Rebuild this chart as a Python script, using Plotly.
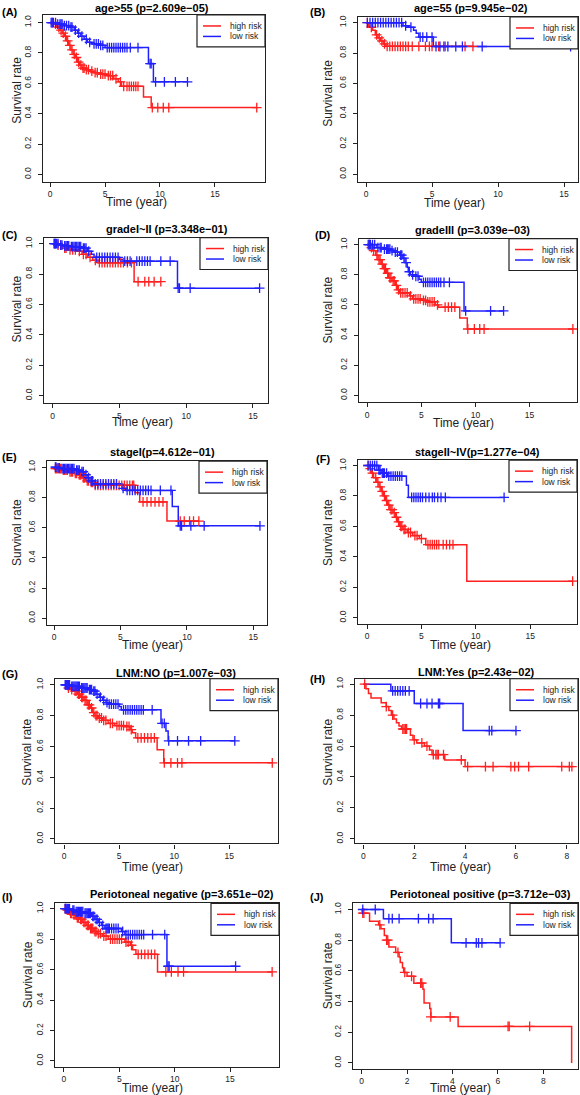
import numpy as np
import plotly.graph_objects as go

W, H = 580, 1095

# ------------------------------------------------------------------ data
titles = ["age>55 (p=2.609e−05)", "age=55 (p=9.945e−02)",
          "gradeI~II (p=3.348e−01)", "gradeIII (p=3.039e−03)",
          "stageI(p=4.612e−01)", "stageII~IV(p=1.277e−04)",
          "LNM:NO (p=1.007e−03)", "LNM:Yes (p=2.43e−02)",
          "Periotoneal negative (p=3.651e−02)", "Periotoneal positive (p=3.712e−03)"]
panel_labels = ["(A)", "(B)", "(C)", "(D)", "(E)", "(F)", "(G)", "(H)", "(I)", "(J)"]
series_names = ["high risk", "low risk"]
x_ticks_long = [0, 5, 10, 15]
x_ticks_short = [0, 2, 4, 6, 8]
y_ticks = [0.0, 0.2, 0.4, 0.6, 0.8, 1.0]
y_tick_labels = ["0.0", "0.2", "0.4", "0.6", "0.8", "1.0"]
x_title = "Time (year)"
y_title = "Survival rate"

# (A) age>55
A_high_t = [0, 0.3, 0.6, 0.9, 1.1, 1.3, 1.5, 1.7, 1.9, 2.1, 2.3, 2.5, 2.7, 2.9, 3.2, 3.6, 4.0, 4.5, 5.2, 5.8, 6.2, 6.5, 8.5, 9.2]
A_high_s = [1, 0.99, 0.97, 0.95, 0.93, 0.91, 0.88, 0.85, 0.82, 0.79, 0.77, 0.74, 0.72, 0.70, 0.69, 0.68, 0.67, 0.66, 0.65, 0.63, 0.61, 0.58, 0.51, 0.44]
A_high_c = [0.2, 0.5, 0.8, 1.0, 1.2, 1.4, 1.6, 1.8, 2.0, 2.2, 2.4, 2.6, 2.8, 3.0, 3.1, 3.3, 3.5, 3.8, 4.1, 4.3, 4.6, 4.8, 5.0, 5.3, 5.5, 5.7, 6.0, 6.4, 6.7, 7.0, 7.2, 7.4, 7.6, 7.8, 8.0, 9.3, 9.8, 10.3, 10.8, 18.8]
A_low_t = [0, 0.6, 1.2, 1.8, 2.2, 2.5, 2.8, 3.1, 3.4, 3.8, 4.5, 5.0, 8.95, 9.4]
A_low_s = [1, 0.99, 0.98, 0.97, 0.95, 0.93, 0.91, 0.89, 0.87, 0.86, 0.85, 0.835, 0.73, 0.61]
A_low_c = [0.1, 0.2, 0.3, 0.5, 0.7, 0.9, 1.0, 1.1, 1.3, 1.5, 1.7, 1.9, 2.0, 2.3, 2.6, 2.9, 3.3, 3.6, 4.0, 4.2, 4.4, 4.6, 4.8, 5.2, 5.4, 5.6, 5.8, 6.0, 6.2, 6.4, 6.6, 6.8, 7.0, 7.3, 8.0, 9.1, 9.2, 9.6, 10.4, 11.4, 12.5]

# (B) age=55
B_high_t = [0, 0.2, 0.5, 0.7, 0.9, 1.1, 1.3, 1.5]
B_high_s = [1, 0.97, 0.95, 0.92, 0.90, 0.88, 0.86, 0.844]
B_high_c = [0.1, 0.4, 0.8, 1.0, 1.2, 1.4, 1.6, 1.8, 2.0, 2.2, 2.4, 2.6, 2.8, 3.0, 3.2, 3.5, 4.0, 4.5, 4.8, 5.0, 5.5, 6.0, 7.5, 8.1]
B_low_t = [0, 2.8, 3.2, 3.6, 3.8, 4.0, 5.1]
B_low_s = [1, 0.98, 0.97, 0.95, 0.93, 0.905, 0.843]
B_low_c = [0.1, 0.3, 0.5, 0.7, 0.9, 1.1, 1.3, 1.5, 1.7, 1.9, 2.1, 2.3, 2.5, 2.7, 3.0, 3.4, 4.1, 4.3, 4.6, 5.0, 5.3, 5.6, 5.9, 6.2, 6.8, 7.3, 8.8, 15.5]

# (C) grade I~II
C_high_t = [0, 0.3, 0.8, 1.2, 1.8, 2.2, 2.6, 3.0, 3.4, 6.1]
C_high_s = [1, 0.99, 0.97, 0.96, 0.95, 0.93, 0.91, 0.89, 0.875, 0.75]
C_high_c = [0.2, 0.4, 0.6, 0.9, 1.0, 1.3, 1.5, 1.7, 2.0, 2.3, 2.5, 2.8, 3.2, 3.5, 3.7, 3.9, 4.1, 4.3, 4.5, 4.7, 4.9, 5.1, 5.3, 5.6, 5.9, 6.4, 6.9, 7.2, 7.6, 8.1]
C_low_t = [0, 0.5, 0.8, 1.3, 2.2, 2.6, 2.9, 3.1, 5.0, 5.3, 9.35]
C_low_s = [1, 0.99, 0.985, 0.98, 0.97, 0.95, 0.93, 0.91, 0.895, 0.885, 0.707]
C_low_c = [0.1, 0.15, 0.2, 0.3, 0.4, 0.6, 0.7, 0.9, 1.0, 1.1, 1.2, 1.4, 1.5, 1.6, 1.7, 1.8, 1.9, 2.0, 2.1, 2.3, 2.4, 2.5, 2.7, 3.3, 3.5, 3.7, 3.9, 4.1, 4.3, 4.5, 4.7, 4.9, 5.4, 5.6, 5.8, 6.3, 6.5, 6.7, 6.9, 7.1, 7.3, 8.1, 8.8, 9.4, 9.5, 10.3, 15.5]

# (D) grade III
D_high_t = [0, 0.3, 0.5, 0.8, 1.0, 1.3, 1.5, 1.8, 2.0, 2.3, 2.6, 2.8, 3.0, 3.9, 4.2, 5.0, 5.5, 6.3, 6.6, 8.55, 9.25]
D_high_s = [1, 0.98, 0.96, 0.93, 0.90, 0.87, 0.84, 0.81, 0.78, 0.76, 0.73, 0.70, 0.68, 0.66, 0.64, 0.63, 0.62, 0.60, 0.585, 0.513, 0.44]
D_high_c = [0.2, 0.4, 0.6, 0.9, 1.1, 1.2, 1.4, 1.6, 1.7, 1.9, 2.1, 2.2, 2.4, 2.5, 2.7, 2.9, 3.1, 3.3, 3.5, 3.7, 4.0, 4.3, 4.5, 4.7, 4.9, 5.2, 5.4, 5.6, 5.8, 6.0, 6.2, 6.5, 7.2, 7.5, 7.8, 8.1, 9.3, 9.9, 10.4, 10.8, 19.0]
D_low_t = [0, 0.9, 1.5, 2.2, 2.5, 3.0, 3.3, 3.5, 3.7, 3.8, 4.0, 4.3, 4.8, 5.0, 8.95]
D_low_s = [1, 0.98, 0.97, 0.96, 0.95, 0.93, 0.91, 0.88, 0.85, 0.82, 0.80, 0.79, 0.77, 0.75, 0.56]
D_low_c = [0.1, 0.2, 0.3, 0.5, 0.7, 1.0, 1.2, 1.3, 1.6, 1.8, 1.9, 2.0, 2.1, 2.3, 2.6, 2.8, 3.1, 3.2, 3.4, 3.6, 3.9, 4.2, 4.5, 4.7, 5.2, 5.4, 5.6, 5.8, 6.0, 6.2, 6.4, 6.6, 6.8, 7.1, 7.6, 9.1, 11.4, 12.6]

# (E) stage I
E_high_t = [0, 0.05, 0.6, 1.1, 1.5, 1.8, 2.1, 2.4, 2.7, 3.0, 6.1, 6.45, 8.5]
E_high_s = [1, 0.99, 0.98, 0.97, 0.96, 0.95, 0.93, 0.91, 0.90, 0.88, 0.83, 0.77, 0.643]
E_high_c = [0.1, 0.2, 0.3, 0.4, 0.5, 0.7, 0.8, 0.9, 1.0, 1.2, 1.3, 1.4, 1.6, 1.7, 1.9, 2.0, 2.2, 2.3, 2.5, 2.6, 2.8, 2.9, 3.1, 3.3, 3.5, 3.7, 3.9, 4.1, 4.3, 4.5, 4.7, 4.9, 5.1, 5.3, 5.5, 5.7, 5.9, 6.0, 6.7, 7.0, 7.3, 7.6, 7.9, 8.2, 9.5, 9.8, 10.2, 10.5, 10.9]
E_low_t = [0, 0.2, 0.5, 1.6, 2.0, 2.3, 2.5, 2.7, 3.0, 5.1, 5.4, 8.9, 9.35]
E_low_s = [1, 0.995, 0.99, 0.98, 0.97, 0.95, 0.93, 0.91, 0.89, 0.86, 0.846, 0.74, 0.612]
E_low_c = [0.1, 0.15, 0.3, 0.4, 0.6, 0.7, 0.8, 0.9, 1.0, 1.1, 1.2, 1.3, 1.4, 1.5, 1.7, 1.8, 1.9, 2.1, 2.2, 2.4, 2.6, 2.8, 2.9, 3.1, 3.3, 3.5, 3.7, 3.9, 4.1, 4.3, 4.5, 4.7, 5.2, 5.5, 5.7, 5.9, 6.1, 6.3, 6.5, 6.7, 6.9, 7.1, 7.3, 8.0, 8.8, 9.5, 9.6, 10.3, 11.3, 15.5]

# (F) stage II~IV
F_high_t = [0, 0.2, 0.4, 0.6, 0.9, 1.1, 1.3, 1.5, 1.7, 1.9, 2.1, 2.4, 2.6, 2.8, 3.0, 3.3, 3.7, 4.2, 4.8, 5.4, 9.17]
F_high_s = [1, 0.98, 0.95, 0.92, 0.89, 0.86, 0.83, 0.80, 0.77, 0.74, 0.71, 0.69, 0.66, 0.63, 0.60, 0.58, 0.56, 0.54, 0.52, 0.48, 0.24]
F_high_c = [0.1, 0.3, 0.5, 0.8, 1.0, 1.2, 1.4, 1.6, 1.8, 2.0, 2.2, 2.3, 2.5, 2.7, 2.9, 3.1, 3.2, 3.4, 3.5, 3.8, 4.0, 4.4, 4.6, 5.0, 5.6, 5.8, 6.0, 6.2, 6.4, 6.6, 7.0, 7.3, 7.6, 7.9, 18.9]
F_low_t = [0, 1.05, 1.3, 1.9, 3.62, 3.8]
F_low_s = [1, 0.97, 0.95, 0.93, 0.87, 0.79]
F_low_c = [0.1, 0.3, 0.5, 0.7, 0.9, 1.1, 1.2, 1.4, 1.5, 1.6, 1.8, 2.0, 2.2, 2.4, 2.6, 2.8, 3.0, 3.2, 4.1, 4.3, 4.5, 4.7, 4.9, 5.1, 5.4, 5.7, 6.0, 6.2, 6.5, 6.8, 7.2, 12.6]

# (G) LNM: NO
G_high_t = [0, 0.3, 0.6, 0.9, 1.2, 1.5, 1.8, 2.1, 2.4, 2.6, 2.8, 3.1, 3.5, 4.0, 4.6, 5.5, 6.0, 6.2, 6.5, 8.45, 9.05]
G_high_s = [1, 0.98, 0.97, 0.96, 0.94, 0.92, 0.90, 0.87, 0.85, 0.82, 0.80, 0.785, 0.77, 0.75, 0.736, 0.73, 0.71, 0.69, 0.656, 0.578, 0.494]
G_high_c = [0.2, 0.4, 0.7, 1.0, 1.1, 1.3, 1.4, 1.6, 1.7, 1.9, 2.0, 2.2, 2.3, 2.5, 2.7, 2.9, 3.0, 3.2, 3.4, 3.6, 3.8, 4.2, 4.4, 4.8, 5.0, 5.2, 5.4, 5.7, 5.9, 6.1, 6.7, 7.0, 7.3, 7.6, 7.9, 8.2, 9.1, 9.7, 10.3, 10.7, 18.9]
G_low_t = [0, 0.6, 1.5, 2.2, 2.6, 2.9, 3.2, 3.5, 3.8, 4.0, 5.0, 5.2, 8.8, 9.25, 9.45]
G_low_s = [1, 0.99, 0.98, 0.97, 0.96, 0.94, 0.92, 0.90, 0.885, 0.875, 0.86, 0.838, 0.75, 0.70, 0.637]
G_low_c = [0.1, 0.15, 0.2, 0.3, 0.4, 0.5, 0.7, 0.8, 0.9, 1.0, 1.1, 1.2, 1.3, 1.4, 1.6, 1.7, 1.8, 1.9, 2.0, 2.1, 2.3, 2.4, 2.5, 2.7, 2.8, 3.0, 3.3, 3.6, 3.9, 4.1, 4.3, 4.5, 4.7, 4.9, 5.4, 5.6, 5.8, 6.0, 6.2, 6.4, 6.6, 6.8, 7.0, 7.2, 8.0, 8.9, 9.1, 9.5, 10.3, 11.3, 12.4, 15.5]

# (H) LNM: Yes
H_high_t = [0, 0.1, 0.2, 0.3, 0.7, 0.9, 1.0, 1.1, 1.2, 1.3, 1.4, 1.5, 1.85, 1.95, 2.1, 2.4, 2.6, 2.7, 3.2, 4.0]
H_high_s = [1, 0.97, 0.94, 0.91, 0.88, 0.855, 0.83, 0.80, 0.775, 0.75, 0.73, 0.71, 0.67, 0.64, 0.62, 0.60, 0.575, 0.545, 0.51, 0.467]
H_high_c = [0.05, 0.9, 1.15, 1.55, 1.6, 1.65, 1.7, 2.0, 2.3, 2.5, 2.75, 2.85, 2.9, 2.95, 3.15, 3.85, 4.1, 4.8, 5.1, 5.8, 5.95, 6.1, 6.5, 7.8, 8.1, 8.2]
H_low_t = [0, 1.08, 2.0, 3.92]
H_low_s = [1, 0.957, 0.875, 0.70]
H_low_c = [1.15, 1.25, 1.35, 1.45, 1.55, 1.65, 1.8, 2.25, 2.5, 2.7, 2.95, 3.0, 4.95, 5.05, 6.0]

# (I) peritoneal negative
I_high_t = [0, 0.2, 0.5, 0.8, 1.1, 1.4, 1.7, 2.0, 2.3, 2.7, 3.0, 3.5, 4.0, 5.5, 6.0, 6.2, 6.5, 8.45]
I_high_s = [1, 0.99, 0.97, 0.96, 0.94, 0.93, 0.91, 0.89, 0.87, 0.85, 0.836, 0.82, 0.80, 0.78, 0.76, 0.73, 0.70, 0.585]
I_high_c = [0.1, 0.3, 0.4, 0.6, 0.7, 0.9, 1.0, 1.2, 1.3, 1.5, 1.6, 1.8, 1.9, 2.1, 2.2, 2.4, 2.5, 2.6, 2.8, 2.9, 3.1, 3.3, 3.6, 3.8, 4.2, 4.4, 4.6, 4.8, 5.0, 5.2, 5.6, 5.8, 6.1, 6.7, 7.0, 7.3, 7.6, 7.9, 8.2, 9.2, 9.7, 10.3, 10.8, 18.8]
I_low_t = [0, 0.7, 1.0, 1.8, 2.5, 2.8, 3.1, 3.4, 3.7, 5.2, 5.5, 9.3]
I_low_s = [1, 0.99, 0.98, 0.97, 0.95, 0.93, 0.91, 0.89, 0.87, 0.85, 0.83, 0.622]
I_low_c = [0.1, 0.15, 0.2, 0.3, 0.4, 0.5, 0.8, 0.9, 1.1, 1.2, 1.3, 1.4, 1.5, 1.6, 1.7, 1.9, 2.0, 2.1, 2.2, 2.3, 2.4, 2.6, 2.7, 2.9, 3.0, 3.2, 3.5, 3.8, 3.9, 4.0, 4.1, 4.3, 4.5, 4.7, 4.9, 5.3, 5.6, 5.8, 6.0, 6.2, 6.4, 6.6, 6.8, 7.0, 7.2, 8.0, 9.1, 9.4, 9.5, 15.5]

# (J) peritoneal positive
J_high_t = [0, 0.02, 0.35, 0.75, 0.85, 1.0, 1.1, 1.2, 1.5, 1.65, 1.7, 1.8, 1.85, 2.0, 2.3, 2.7, 2.75, 3.0, 3.05, 4.25, 9.25]
J_high_s = [1, 0.976, 0.924, 0.90, 0.875, 0.83, 0.80, 0.755, 0.72, 0.69, 0.655, 0.62, 0.59, 0.565, 0.52, 0.48, 0.39, 0.354, 0.30, 0.238, 0.0]
J_high_c = [0.05, 0.1, 0.8, 1.1, 1.15, 1.6, 1.9, 2.2, 2.6, 2.65, 3.05, 3.9, 6.45, 6.5, 7.4]
J_low_t = [0, 0.96, 3.95]
J_low_s = [1, 0.94, 0.783]
J_low_c = [0.05, 0.6, 1.2, 1.35, 1.65, 2.5, 2.95, 3.15, 4.6, 5.05, 5.15, 5.3, 6.1]

curves = [
    ((A_high_t, A_high_s, A_high_c), (A_low_t, A_low_s, A_low_c)),
    ((B_high_t, B_high_s, B_high_c), (B_low_t, B_low_s, B_low_c)),
    ((C_high_t, C_high_s, C_high_c), (C_low_t, C_low_s, C_low_c)),
    ((D_high_t, D_high_s, D_high_c), (D_low_t, D_low_s, D_low_c)),
    ((E_high_t, E_high_s, E_high_c), (E_low_t, E_low_s, E_low_c)),
    ((F_high_t, F_high_s, F_high_c), (F_low_t, F_low_s, F_low_c)),
    ((G_high_t, G_high_s, G_high_c), (G_low_t, G_low_s, G_low_c)),
    ((H_high_t, H_high_s, H_high_c), (H_low_t, H_low_s, H_low_c)),
    ((I_high_t, I_high_s, I_high_c), (I_low_t, I_low_s, I_low_c)),
    ((J_high_t, J_high_s, J_high_c), (J_low_t, J_low_s, J_low_c)),
]

# ------------------------------------------------------------------ layout (pixels)
# plot box: left, right, top, bottom
boxes = [(43, 265, 13, 180), (358, 578, 15, 180),
         (44, 268, 236, 402), (359, 577, 237, 401),
         (47, 267, 460, 624), (358, 577, 459, 623),
         (55, 278, 678, 843), (355, 578, 678, 843),
         (55, 279, 903, 1067), (353, 578, 903, 1069)]
x_ranges = [(-0.64, 19.55), (-0.61, 16.06), (-0.65, 16.13), (-0.75, 19.38), (-0.53, 16.03),
            (-0.83, 19.3), (-0.82, 19.42), (-0.33, 8.44), (-0.81, 19.42), (-0.38, 9.53)]
y_ranges = [(-0.048, 1.05), (-0.05, 1.038), (-0.05, 1.04), (-0.046, 1.04), (-0.044, 1.04),
            (-0.04, 1.035), (-0.03, 1.04), (-0.03, 1.035), (-0.04, 1.035), (-0.04, 1.04)]
short_axis = [False, False, False, False, False, False, False, True, False, True]
title_pos = [(152, 6), (471, 6), (167, 227), (472, 228), (162, 451),
             (477, 451), (176, 672), (476, 671), (182, 894), (480, 894)]
label_pos = [(0, 10), (308, 10), (0, 233), (313, 233), (0, 456),
             (314, 458), (0, 673), (308, 678), (0, 897), (308, 897)]
ylab_pos = [(17, 89), (328, 92), (17, 308), (328, 309), (17, 532),
            (328, 532), (27, 752), (328, 752), (28, 975), (328, 976)]
xlab_pos = [(136, 200), (454, 201), (142, 421), (463, 422), (152, 644),
            (460, 644), (152, 867), (460, 867), (152, 1088), (460, 1088)]
LEG_W, LEG_H = 68, 32

RED = "#FF2020"
BLUE = "#2020FF"
INK = "#222222"
FONT = "Liberation Sans, Arial, sans-serif"


def surv_at(t, s, times):
    t = np.asarray(t, float)
    s = np.asarray(s, float)
    idx = np.searchsorted(t, np.asarray(times, float), side="right") - 1
    return s[np.clip(idx, 0, len(s) - 1)]


def px(x):
    return x / W


def py(y):
    return 1 - y / H


fig = go.Figure()
annotations = []
shapes = []
layout_axes = {}

for k in range(10):
    n = "" if k == 0 else str(k + 1)
    xa, ya = "x" + n, "y" + n
    L, R, T, B = boxes[k]
    for (t, s, c), name, col in zip(curves[k], series_names, [RED, BLUE]):
        end = max(max(c), t[-1])
        xs = list(t) + ([end] if end > t[-1] else [])
        ys = list(s) + ([s[-1]] if end > t[-1] else [])
        fig.add_trace(go.Scatter(x=xs, y=ys, mode="lines", line=dict(color=col, width=1.5, shape="hv"),
                                 name=name, xaxis=xa, yaxis=ya, showlegend=False, hoverinfo="skip"))
    for (t, s, c), name, col in zip(curves[k], series_names, [RED, BLUE]):
        fig.add_trace(go.Scatter(x=c, y=surv_at(t, s, c), mode="markers",
                                 marker=dict(symbol="cross-thin", size=7, line=dict(color=col, width=1.3)),
                                 name=name + " censored", xaxis=xa, yaxis=ya, showlegend=False,
                                 hoverinfo="skip"))
    ticks = x_ticks_short if short_axis[k] else x_ticks_long
    common = dict(showline=True, mirror=True, linecolor=INK, linewidth=1.2, ticks="outside",
                  ticklen=4, tickcolor=INK, tickwidth=1, showgrid=False, zeroline=False,
                  tickfont=dict(family=FONT, size=8.5, color=INK))
    layout_axes["xaxis" + n] = dict(domain=[px(L), px(R)], range=list(x_ranges[k]), anchor=ya,
                                    tickvals=ticks, ticktext=[str(v) for v in ticks],
                                    ticklabelstandoff=0, **common)
    layout_axes["yaxis" + n] = dict(domain=[py(B), py(T)], range=list(y_ranges[k]), anchor=xa,
                                    tickvals=y_ticks, ticktext=y_tick_labels, tickangle=-90,
                                    ticklabelstandoff=4, **common)

    # legend box (top-right corner of the panel)
    lx0, lx1, ly0, ly1 = R - LEG_W, R, T, T + LEG_H
    shapes.append(dict(type="rect", xref="paper", yref="paper", x0=px(lx0), x1=px(lx1),
                       y0=py(ly1), y1=py(ly0), fillcolor="white",
                       line=dict(color=INK, width=1.2), layer="above"))
    for j, (name, col) in enumerate(zip(series_names, [RED, BLUE])):
        yy = ly0 + 11 + j * 10.5
        shapes.append(dict(type="line", xref="paper", yref="paper", x0=px(lx0 + 6), x1=px(lx0 + 24),
                           y0=py(yy), y1=py(yy), line=dict(color=col, width=1.5), layer="above"))
        annotations.append(dict(x=px(lx0 + 31), y=py(yy), xref="paper", yref="paper", text=name,
                                showarrow=False, xanchor="left", yanchor="middle",
                                font=dict(family=FONT, size=8.5, color=INK)))

    tx, ty = title_pos[k]
    annotations.append(dict(x=px(tx), y=py(ty), xref="paper", yref="paper", text="<b>" + titles[k] + "</b>",
                            showarrow=False, xanchor="center", yanchor="middle",
                            font=dict(family=FONT, size=11, color="black")))
    lbx, lby = label_pos[k]
    annotations.append(dict(x=px(lbx), y=py(lby), xref="paper", yref="paper", text="<b>" + panel_labels[k] + "</b>",
                            showarrow=False, xanchor="left", yanchor="middle",
                            font=dict(family=FONT, size=11, color="black")))
    yx, yy = ylab_pos[k]
    annotations.append(dict(x=px(yx), y=py(yy), xref="paper", yref="paper", text=y_title,
                            showarrow=False, xanchor="center", yanchor="middle", textangle=-90,
                            font=dict(family=FONT, size=12, color=INK)))
    xx, xy = xlab_pos[k]
    annotations.append(dict(x=px(xx), y=py(xy), xref="paper", yref="paper", text=x_title,
                            showarrow=False, xanchor="center", yanchor="middle",
                            font=dict(family=FONT, size=12, color=INK)))

fig.update_layout(width=W, height=H, margin=dict(l=0, r=0, t=0, b=0),
                  paper_bgcolor="white", plot_bgcolor="white", showlegend=False,
                  annotations=annotations, shapes=shapes, **layout_axes)

fig.write_html("out.html", config={"displayModeBar": False},
               post_script="document.body.style.margin='0';document.body.style.overflow='hidden';")
